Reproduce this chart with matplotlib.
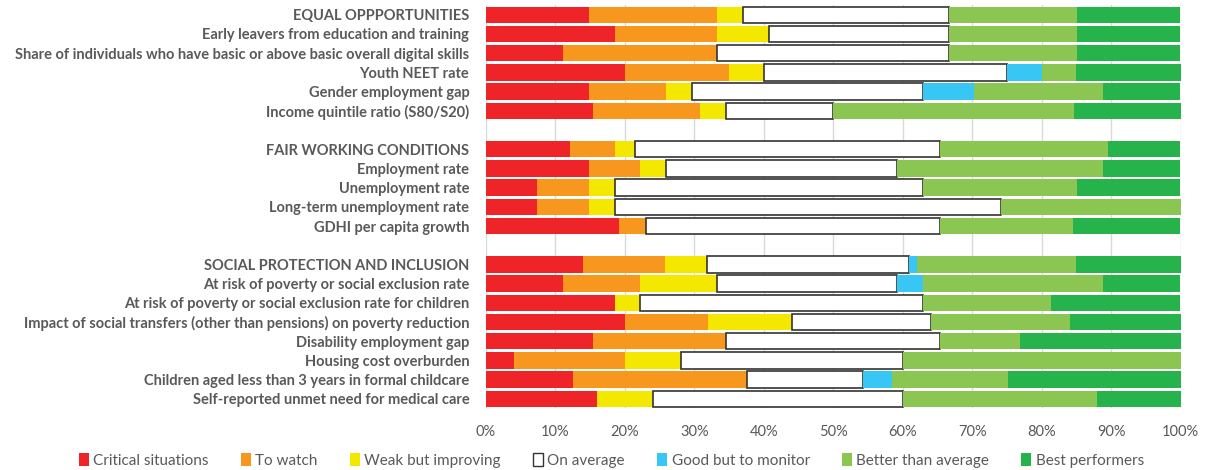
import matplotlib
matplotlib.use("Agg")
import matplotlib.pyplot as plt
from matplotlib.patches import Patch

plt.rcParams['font.family'] = ['Lato', 'DejaVu Sans']

# categories, top to bottom ("" = empty spacer row)
categories = [
    "EQUAL OPPPORTUNITIES",
    "Early leavers from education and training",
    "Share of individuals who have basic or above basic overall digital skills",
    "Youth NEET rate",
    "Gender employment gap",
    "Income quintile ratio (S80/S20)",
    "",
    "FAIR WORKING CONDITIONS",
    "Employment rate",
    "Unemployment rate",
    "Long-term unemployment rate",
    "GDHI per capita growth",
    "",
    "SOCIAL PROTECTION AND INCLUSION",
    "At risk of poverty or social exclusion rate",
    "At risk of poverty or social exclusion rate for children",
    "Impact of social transfers (other than pensions) on poverty reduction",
    "Disability employment gap",
    "Housing cost overburden",
    "Children aged less than 3 years in formal childcare",
    "Self-reported unmet need for medical care",
]

# share of countries (%) in each group, same row order
critical = [14.8, 18.5, 11.1, 20.0, 14.8, 15.4, 0,
            12.1, 14.8, 7.4, 7.4, 19.2, 0,
            14.0, 11.1, 18.5, 20.0, 15.4, 4.0, 12.5, 16.0]
to_watch = [18.5, 14.8, 22.2, 15.0, 11.1, 15.4, 0,
            6.5, 7.4, 7.4, 7.4, 3.8, 0,
            11.7, 11.1, 0, 12.0, 19.2, 16.0, 25.0, 0]
weak_improving = [3.7, 7.4, 0, 5.0, 3.7, 3.8, 0,
                  2.8, 3.7, 3.7, 3.7, 0, 0,
                  6.1, 11.1, 3.7, 12.0, 0, 8.0, 0, 8.0]
on_average = [29.6, 25.9, 33.3, 35.0, 33.3, 15.4, 0,
              43.9, 33.3, 44.4, 55.6, 42.3, 0,
              29.1, 25.9, 40.7, 20.0, 30.8, 32.0, 16.7, 36.0]
good_monitor = [0, 0, 0, 5.0, 7.4, 0, 0,
                0, 0, 0, 0, 0, 0,
                1.1, 3.7, 0, 0, 0, 0, 4.2, 0]
better_avg = [18.5, 18.5, 18.5, 5.0, 18.5, 34.6, 0,
              24.3, 29.6, 22.2, 25.9, 19.2, 0,
              22.9, 25.9, 18.5, 20.0, 11.5, 40.0, 16.7, 28.0]
best = [14.8, 14.8, 14.8, 15.0, 11.1, 15.4, 0,
        10.3, 11.1, 14.8, 0, 15.4, 0,
        15.1, 11.1, 18.5, 16.0, 23.1, 0, 25.0, 12.0]

series = [
    ("Critical situations", critical, "#EE2428"),
    ("To watch", to_watch, "#F7971D"),
    ("Weak but improving", weak_improving, "#F4E800"),
    ("On average", on_average, "#FFFFFF"),
    ("Good but to monitor", good_monitor, "#38C6F4"),
    ("Better than average", better_avg, "#8CC652"),
    ("Best performers", best, "#27B34B"),
]

fig = plt.figure(figsize=(12.06, 4.70), dpi=100)
ax = fig.add_axes([0.403, 0.131, 0.576, 0.858])

left = [0.0] * len(categories)
for name, vals, col in series:
    # skip empty segments so no stray outlines show up
    ys = [i for i, v in enumerate(vals) if v > 0]
    ws = [vals[i] for i in ys]
    ls = [left[i] for i in ys]
    if col == "#FFFFFF":
        ax.barh(ys, ws, left=ls, height=0.85, color=col,
                edgecolor="#333333", linewidth=1.2, zorder=3)
    else:
        ax.barh(ys, ws, left=ls, height=0.85, color=col,
                edgecolor="none", zorder=3)
    left = [l + v for l, v in zip(left, vals)]

ax.set_xlim(0, 100)
ax.set_ylim(len(categories) - 0.5, -0.5)
ax.set_xticks(range(0, 101, 10))
ax.set_xticklabels([f"{t}%" for t in range(0, 101, 10)], color="#595959", fontsize=10.5)
ax.set_yticks(range(len(categories)))
ax.set_yticklabels(categories, fontweight="bold", color="#595959", fontsize=10.5)
ax.tick_params(axis="x", length=0, pad=12)
ax.tick_params(axis="y", length=0, pad=12)
ax.grid(axis="x", color="#D9D9D9", linewidth=1, zorder=0)
ax.set_axisbelow(True)
for s in ax.spines.values():
    s.set_visible(False)

handles = []
for name, vals, col in series:
    if col == "#FFFFFF":
        handles.append(Patch(facecolor=col, edgecolor="#333333", linewidth=1, label=name))
    else:
        handles.append(Patch(facecolor=col, edgecolor="none", label=name))
fig.legend(handles=handles, loc="lower center", bbox_to_anchor=(0.507, -0.025), ncol=7,
           frameon=False, fontsize=11, labelcolor="#595959",
           handlelength=0.65, handleheight=0.9, handletextpad=0.3, columnspacing=2.1)

fig.savefig("out.png", dpi=100)
